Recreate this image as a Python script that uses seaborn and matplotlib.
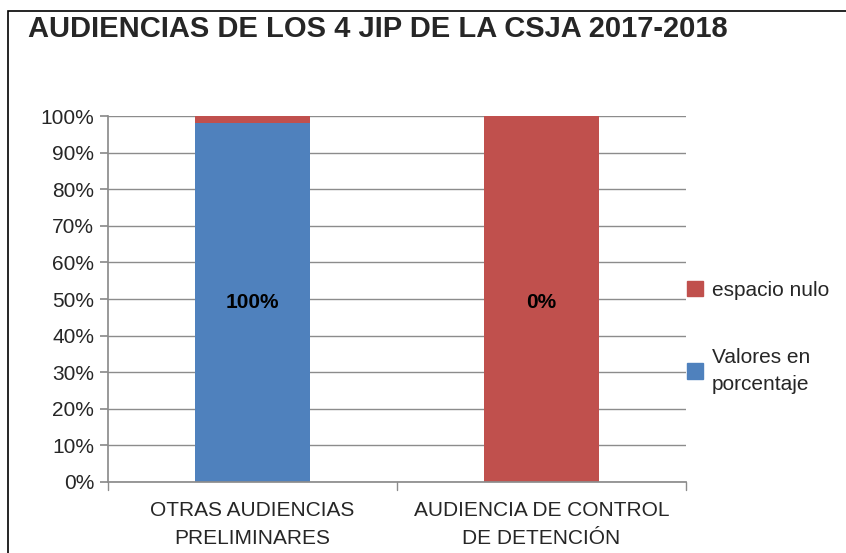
import matplotlib
matplotlib.use("Agg")
import matplotlib.pyplot as plt
import matplotlib.patches as mpatches
import pandas as pd
import seaborn as sns

categorias = ["OTRAS AUDIENCIAS\nPRELIMINARES", "AUDIENCIA DE CONTROL\nDE DETENCIÓN"]
valores = [98, 0]          # Valores en porcentaje
nulo = [2, 100]            # espacio nulo
etiquetas = ["100%", "0%"]
yticks = list(range(0, 101, 10))

azul = "#4f81bd"
rojo = "#c0504d"

sns.set_theme(style="white")
plt.rcParams["font.family"] = ["Liberation Sans", "DejaVu Sans"]

df = pd.DataFrame({"cat": categorias, "valor": valores,
                   "total": [v + n for v, n in zip(valores, nulo)]})

fig = plt.figure(figsize=(8.46, 5.53), dpi=100)
ax = fig.add_axes([0.1277, 0.1284, 0.683, 0.6616])

sns.barplot(data=df, x="cat", y="total", color=rojo, width=0.4, saturation=1,
            linewidth=0, ax=ax)
sns.barplot(data=df, x="cat", y="valor", color=azul, width=0.4, saturation=1,
            linewidth=0, ax=ax)

ax.set_ylim(0, 100)
ax.set_xlim(-0.5, 1.5)
ax.set_yticks(yticks)
ax.set_yticklabels([f"{t}%" for t in yticks], fontsize=15)
ax.yaxis.grid(True, color="#8c8c8c", linewidth=1)
ax.set_axisbelow(True)
ax.set_xlabel("")
ax.set_ylabel("")
ax.tick_params(axis="x", labelsize=15, length=0, pad=14)
for lbl in ax.get_xticklabels():
    lbl.set_linespacing(1.6)
ax.tick_params(axis="y", left=True, length=6, color="#8c8c8c", pad=4)
for s in ["top", "right"]:
    ax.spines[s].set_visible(False)
for s in ["left", "bottom"]:
    ax.spines[s].set_color("#8c8c8c")

# separadores de categorias en el eje x
for xb in [-0.5, 0.5, 1.5]:
    ax.plot([xb, xb], [0, -2.2], color="#8c8c8c", linewidth=1, clip_on=False)

for i, t in enumerate(etiquetas):
    ax.text(i, 49, t, ha="center", va="center", fontsize=15, fontweight="bold", color="black")

handles = [mpatches.Patch(color=rojo, label="espacio nulo"),
           mpatches.Patch(color=azul, label="Valores en\nporcentaje")]
leg = fig.legend(handles=handles, loc="center left", bbox_to_anchor=(0.79, 0.39),
                 frameon=False, fontsize=15, handlelength=0.75, handleheight=0.75,
                 handletextpad=0.45, labelspacing=2.3)
for t in leg.get_texts():
    t.set_linespacing(1.5)

fig.text(0.033, 0.947, "AUDIENCIAS DE LOS 4 JIP DE LA CSJA 2017-2018",
         fontsize=21, fontweight="bold", va="center", ha="left")

fig.add_artist(mpatches.Rectangle((0.009, -0.01), 1.1, 0.99, transform=fig.transFigure,
                                  fill=False, edgecolor="black", linewidth=1.2))

fig.savefig("out.png", dpi=100)
